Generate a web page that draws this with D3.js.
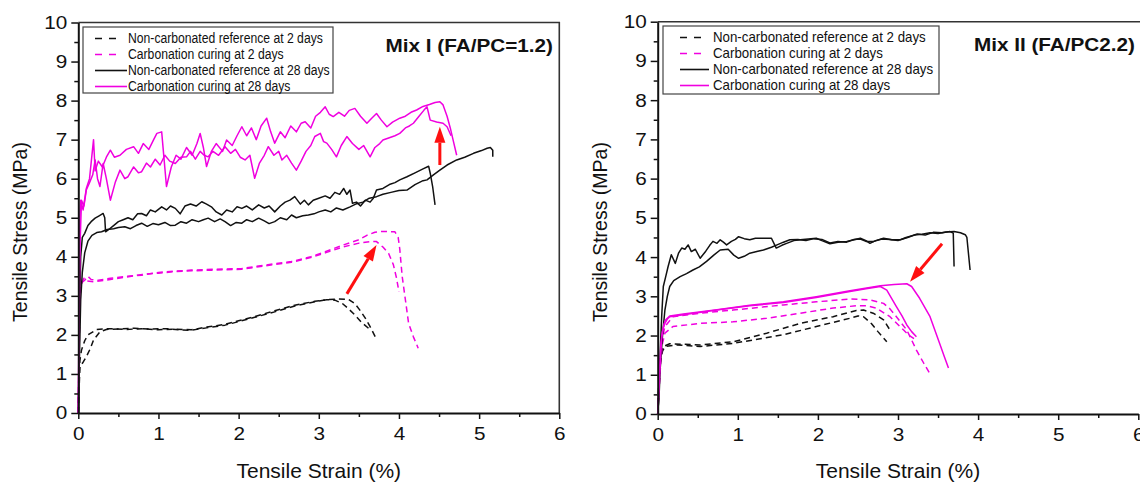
<!DOCTYPE html>
<html><head><meta charset="utf-8">
<script src="https://cdn.jsdelivr.net/npm/d3@7"></script>
<style>body{margin:0;background:#fff;} svg{display:block;}</style>
</head><body>
<svg id="chart" width="1140" height="486"></svg>
<script>
// ---------- tick values & labels ----------
const xTicks = [0, 1, 2, 3, 4, 5, 6];
const xMinorTicks = [0.5, 1.5, 2.5, 3.5, 4.5, 5.5];
const yTicks = [0, 1, 2, 3, 4, 5, 6, 7, 8, 9, 10];
const yMinorTicks = [0.5, 1.5, 2.5, 3.5, 4.5, 5.5, 6.5, 7.5, 8.5, 9.5];
const xTitle = "Tensile Strain (%)";
const yTitle = "Tensile Stress (MPa)";
const panelTitles = ["Mix I (FA/PC=1.2)", "Mix II (FA/PC2.2)"];
const legendLabels = ["Non-carbonated reference at 2 days", "Carbonation curing at 2 days",
  "Non-carbonated reference at 28 days", "Carbonation curing at 28 days"];

// ---------- Mix I data: [strain %, stress MPa] ----------
const mix1_nc2_a = [[0,0],[0.01,0.6],[0.02,1.19],[0.06,1.3],[0.1,1.44],[0.15,1.65],[0.19,1.87],[0.27,2.08],[0.35,2.14],[0.5,2.15],[0.7,2.17],[0.9,2.15],[1.1,2.16],[1.25,2.13],[1.41,2.12],[1.6,2.18],[1.83,2.25],[2.0,2.34],[2.2,2.45],[2.45,2.59],[2.7,2.74],[2.95,2.85],[3.1,2.9],[3.24,2.92],[3.37,2.91],[3.45,2.8],[3.51,2.64],[3.58,2.43],[3.64,2.21],[3.72,1.89]];
const mix1_nc2_b = [[0,0],[0.01,0.9],[0.02,1.35],[0.04,1.61],[0.08,1.85],[0.12,2.0],[0.23,2.14],[0.4,2.16],[0.6,2.14],[0.8,2.16],[1.0,2.13],[1.2,2.15],[1.41,2.13],[1.6,2.2],[1.83,2.27],[2.0,2.36],[2.2,2.47],[2.45,2.62],[2.7,2.76],[2.95,2.86],[3.1,2.9],[3.2,2.89],[3.29,2.81],[3.37,2.67],[3.45,2.51],[3.53,2.33],[3.62,2.17]];
const mix1_c2_a = [[0,0],[0.01,1.5],[0.02,2.8],[0.03,3.2],[0.05,3.35],[0.08,3.4],[0.12,3.5],[0.16,3.42],[0.25,3.4],[0.4,3.45],[0.6,3.5],[0.79,3.53],[1.0,3.6],[1.2,3.63],[1.41,3.66],[1.7,3.68],[2.04,3.7],[2.3,3.78],[2.66,3.88],[2.9,4.0],[3.08,4.13],[3.3,4.3],[3.49,4.43],[3.6,4.55],[3.7,4.63],[3.8,4.65],[3.95,4.64],[3.99,4.5],[4.01,4.2],[4.04,3.5],[4.08,2.9],[4.12,2.3],[4.18,1.95],[4.24,1.66]];
const mix1_c2_b = [[0,0],[0.01,1.8],[0.02,3.0],[0.04,3.3],[0.07,3.45],[0.1,3.38],[0.2,3.36],[0.4,3.42],[0.6,3.48],[0.8,3.55],[1.0,3.58],[1.2,3.62],[1.41,3.64],[1.7,3.66],[2.04,3.68],[2.3,3.76],[2.66,3.86],[2.9,3.98],[3.08,4.1],[3.3,4.25],[3.5,4.35],[3.65,4.39],[3.72,4.39],[3.8,4.25],[3.87,4.09],[3.93,3.8],[3.97,3.45],[4.0,3.1]];
const mix1_nc28_a = [[0,0],[0.01,1.5],[0.02,3.0],[0.03,4.0],[0.05,4.5],[0.08,4.6],[0.12,4.8],[0.16,4.9],[0.21,4.99],[0.26,5.05],[0.31,5.11],[0.33,5.0],[0.34,4.64],[0.38,4.7],[0.44,4.8],[0.5,4.9],[0.56,4.95],[0.62,5.0],[0.68,4.95],[0.74,5.1],[0.79,5.11],[0.85,5.05],[0.9,5.2],[0.96,5.15],[1.04,5.28],[1.1,5.2],[1.15,5.3],[1.21,5.24],[1.27,5.1],[1.33,5.3],[1.4,5.35],[1.47,5.3],[1.54,5.41],[1.6,5.35],[1.66,5.28],[1.72,5.15],[1.79,5.07],[1.85,5.2],[1.92,5.15],[1.98,5.28],[2.04,5.24],[2.1,5.3],[2.17,5.2],[2.25,5.33],[2.32,5.25],[2.38,5.3],[2.45,5.15],[2.52,5.3],[2.58,5.4],[2.64,5.45],[2.7,5.54],[2.77,5.35],[2.82,5.45],[2.87,5.33],[2.93,5.45],[3.0,5.5],[3.08,5.56],[3.14,5.5],[3.2,5.65],[3.26,5.6],[3.31,5.75],[3.35,5.6],[3.39,5.71],[3.42,5.37],[3.47,5.4],[3.52,5.3],[3.58,5.45],[3.64,5.4],[3.68,5.5],[3.72,5.71],[3.8,5.75],[3.88,5.85],[3.95,5.9],[4.01,5.97],[4.1,6.05],[4.2,6.15],[4.3,6.25],[4.37,6.32],[4.39,6.14],[4.42,5.8],[4.45,5.33]];
const mix1_nc28_b = [[0,0],[0.01,1.0],[0.02,2.0],[0.03,2.9],[0.05,3.6],[0.08,4.1],[0.12,4.4],[0.17,4.55],[0.23,4.62],[0.29,4.64],[0.36,4.7],[0.44,4.72],[0.5,4.75],[0.58,4.77],[0.65,4.72],[0.72,4.8],[0.79,4.86],[0.86,4.78],[0.93,4.85],[1.0,4.82],[1.08,4.88],[1.15,4.8],[1.21,4.81],[1.28,4.9],[1.35,4.86],[1.42,4.95],[1.5,4.9],[1.56,4.95],[1.62,4.99],[1.7,4.9],[1.77,4.97],[1.83,4.9],[1.9,4.8],[1.97,4.88],[2.04,4.86],[2.1,4.95],[2.17,4.9],[2.25,4.99],[2.32,4.92],[2.38,4.85],[2.45,4.9],[2.52,5.0],[2.6,4.95],[2.66,5.07],[2.72,5.0],[2.8,5.05],[2.87,5.07],[2.94,5.1],[3.0,5.15],[3.08,5.2],[3.15,5.15],[3.22,5.25],[3.3,5.2],[3.39,5.28],[3.46,5.35],[3.55,5.4],[3.63,5.5],[3.72,5.54],[3.8,5.6],[3.9,5.65],[4.0,5.7],[4.1,5.71],[4.2,5.85],[4.3,5.95],[4.35,5.97],[4.43,6.1],[4.51,6.22],[4.6,6.35],[4.72,6.48],[4.82,6.55],[4.93,6.65],[5.03,6.72],[5.1,6.78],[5.14,6.8],[5.17,6.73],[5.17,6.56]];
const mix1_c28_a = [[0,0],[0.01,3.0],[0.02,5.0],[0.03,5.45],[0.06,5.2],[0.1,5.75],[0.14,6.0],[0.19,7.0],[0.21,6.2],[0.25,6.45],[0.3,6.3],[0.35,6.55],[0.4,6.73],[0.45,6.55],[0.52,6.6],[0.6,6.75],[0.69,6.82],[0.75,6.65],[0.81,6.9],[0.88,6.75],[0.94,7.0],[0.98,7.16],[1.04,7.2],[1.1,5.8],[1.16,6.3],[1.22,6.6],[1.28,6.5],[1.35,6.8],[1.42,6.6],[1.48,6.9],[1.52,7.16],[1.56,6.8],[1.6,6.31],[1.66,6.7],[1.72,6.9],[1.8,6.7],[1.85,6.99],[1.92,6.85],[1.98,7.1],[2.04,7.33],[2.1,7.1],[2.16,7.3],[2.22,7.0],[2.28,7.35],[2.35,7.55],[2.4,7.2],[2.45,6.91],[2.52,7.2],[2.58,7.05],[2.65,7.35],[2.72,7.2],[2.78,7.42],[2.83,7.46],[2.9,7.3],[2.96,7.6],[3.02,7.7],[3.08,7.84],[3.13,7.65],[3.18,7.59],[3.25,7.7],[3.32,7.6],[3.38,7.75],[3.45,7.8],[3.52,7.6],[3.6,7.42],[3.66,7.55],[3.72,7.67],[3.78,7.5],[3.85,7.33],[3.92,7.45],[4.01,7.55],[4.08,7.6],[4.15,7.7],[4.22,7.76],[4.3,7.85],[4.38,7.9],[4.45,7.95],[4.51,7.97],[4.55,7.89],[4.6,7.6],[4.64,7.3],[4.68,6.95],[4.72,6.6]];
const mix1_c28_b = [[0,0],[0.01,2.2],[0.02,4.2],[0.04,5.45],[0.07,5.3],[0.1,5.71],[0.14,5.9],[0.18,6.1],[0.21,6.48],[0.24,6.0],[0.27,5.8],[0.31,6.39],[0.35,6.0],[0.4,5.45],[0.46,5.9],[0.52,6.22],[0.58,6.0],[0.62,6.05],[0.69,6.3],[0.75,6.15],[0.79,6.18],[0.85,6.4],[0.9,6.3],[0.96,6.5],[1.02,6.35],[1.08,6.6],[1.14,6.45],[1.21,6.39],[1.28,6.55],[1.35,6.56],[1.4,6.7],[1.46,6.5],[1.52,6.7],[1.57,6.6],[1.62,6.56],[1.68,6.7],[1.75,6.6],[1.83,6.82],[1.9,6.65],[1.96,6.75],[2.02,6.55],[2.08,6.48],[2.14,6.6],[2.2,6.01],[2.26,6.4],[2.32,6.6],[2.37,6.82],[2.44,6.6],[2.5,6.7],[2.54,6.48],[2.6,6.6],[2.66,6.4],[2.72,6.22],[2.78,6.45],[2.84,6.7],[2.9,6.85],[2.95,7.08],[3.02,7.16],[3.06,6.95],[3.1,6.91],[3.16,6.75],[3.22,6.56],[3.28,6.85],[3.35,7.08],[3.42,6.9],[3.5,6.75],[3.56,6.85],[3.64,6.56],[3.7,6.8],[3.76,6.9],[3.8,6.99],[3.88,7.05],[3.95,7.1],[4.01,7.16],[4.08,7.3],[4.13,7.35],[4.18,7.42],[4.25,7.6],[4.31,7.75],[4.35,7.84],[4.39,7.5],[4.47,7.45],[4.55,7.42],[4.6,7.33],[4.65,7.1]];

// ---------- Mix II data ----------
const mix2_nc2_a = [[0,0],[0.01,0.6],[0.02,1.1],[0.03,1.46],[0.07,1.72],[0.15,1.79],[0.53,1.76],[0.94,1.84],[1.36,2.06],[1.78,2.31],[2.19,2.48],[2.48,2.64],[2.57,2.65],[2.69,2.57],[2.82,2.4],[2.9,2.14]];
const mix2_nc2_b = [[0,0],[0.01,0.5],[0.02,0.9],[0.03,1.29],[0.06,1.6],[0.09,1.72],[0.24,1.76],[0.53,1.72],[0.94,1.8],[1.57,2.02],[1.98,2.23],[2.4,2.44],[2.5,2.5],[2.57,2.48],[2.67,2.3],[2.75,2.1],[2.86,1.84]];
const mix2_c2_a = [[0,0],[0.02,0.8],[0.04,1.6],[0.06,1.95],[0.09,2.23],[0.19,2.48],[0.53,2.57],[0.94,2.65],[1.57,2.78],[1.98,2.86],[2.4,2.93],[2.65,2.91],[2.82,2.82],[2.9,2.68],[2.98,2.48],[3.11,2.14],[3.23,1.63],[3.32,1.3],[3.4,1.02]];
const mix2_c2_b = [[0,0],[0.02,0.7],[0.04,1.4],[0.06,1.8],[0.09,2.06],[0.19,2.23],[0.53,2.31],[0.94,2.35],[1.36,2.44],[1.78,2.57],[2.19,2.7],[2.48,2.76],[2.6,2.76],[2.73,2.7],[2.9,2.48],[3.07,2.14],[3.14,2.0],[3.2,1.92]];
const mix2_nc28_a = [[0,0],[0.01,0.27],[0.03,1.5],[0.05,2.5],[0.07,3.25],[0.1,3.5],[0.13,3.76],[0.17,4.06],[0.22,3.84],[0.26,4.1],[0.3,4.23],[0.34,4.2],[0.38,4.31],[0.42,4.14],[0.47,4.2],[0.53,3.97],[0.6,4.15],[0.65,4.3],[0.69,4.4],[0.74,4.35],[0.78,4.44],[0.82,4.38],[0.86,4.31],[0.92,4.4],[0.97,4.45],[1.01,4.52],[1.08,4.47],[1.15,4.44],[1.22,4.48],[1.32,4.48],[1.42,4.48],[1.48,4.23],[1.55,4.3],[1.61,4.35],[1.7,4.42],[1.78,4.44],[1.88,4.46],[1.98,4.48],[2.05,4.42],[2.15,4.34],[2.25,4.38],[2.36,4.4],[2.45,4.44],[2.53,4.48],[2.6,4.42],[2.65,4.35],[2.72,4.42],[2.82,4.48],[2.92,4.44],[3.03,4.44],[3.12,4.5],[3.24,4.59],[3.34,4.56],[3.44,4.63],[3.55,4.62],[3.65,4.65],[3.69,4.61],[3.7,3.76]];
const mix2_nc28_b = [[0,0],[0.02,0.6],[0.03,1.12],[0.06,2.0],[0.09,2.65],[0.12,3.0],[0.15,3.25],[0.2,3.4],[0.28,3.5],[0.36,3.58],[0.44,3.67],[0.52,3.75],[0.61,3.89],[0.7,4.05],[0.78,4.18],[0.88,4.2],[0.95,4.05],[1.01,3.97],[1.08,4.02],[1.15,4.1],[1.25,4.15],[1.32,4.18],[1.42,4.25],[1.49,4.31],[1.57,4.38],[1.65,4.44],[1.75,4.45],[1.85,4.42],[1.95,4.47],[2.05,4.45],[2.15,4.36],[2.25,4.4],[2.36,4.38],[2.45,4.45],[2.53,4.46],[2.6,4.4],[2.7,4.4],[2.8,4.46],[2.9,4.45],[3.0,4.42],[3.1,4.5],[3.2,4.56],[3.3,4.58],[3.4,4.62],[3.5,4.6],[3.6,4.64],[3.7,4.65],[3.78,4.62],[3.84,4.57],[3.86,4.5],[3.9,3.67]];
const mix2_c28_a = [[0,0],[0.02,0.8],[0.04,1.6],[0.05,1.97],[0.07,2.2],[0.09,2.31],[0.12,2.42],[0.15,2.48],[0.32,2.53],[0.74,2.65],[1.15,2.76],[1.57,2.84],[1.98,2.97],[2.4,3.12],[2.6,3.19],[2.78,3.25],[2.86,3.16],[2.92,2.95],[2.98,2.74],[3.05,2.5],[3.11,2.27],[3.17,2.1],[3.23,1.97]];
const mix2_c28_b = [[0,0],[0.02,1.0],[0.04,1.8],[0.06,2.1],[0.08,2.3],[0.1,2.4],[0.15,2.5],[0.32,2.55],[0.74,2.66],[1.15,2.77],[1.57,2.86],[1.98,2.99],[2.4,3.14],[2.78,3.27],[2.95,3.3],[3.11,3.32],[3.17,3.25],[3.27,2.95],[3.4,2.48],[3.52,1.8],[3.58,1.45],[3.63,1.17]];

// ---------- annotation arrows: [tailStrain, tailStress, tipStrain, tipStress] ----------
const mix1_arrows = [[4.51, 6.35, 4.51, 7.33], [3.35, 3.05, 3.72, 4.3]];
const mix2_arrows = [[3.55, 4.34, 3.15, 3.37]];

// ---------- styles (kept apart from data) ----------
const MAG = "#f000e0";
const seriesStyle = [
  { color: "#111", dash: "6,4" },
  { color: MAG, dash: "6,4" },
  { color: "#111", dash: null },
  { color: MAG, dash: null }
];
const FONT = "'Liberation Sans', Arial, sans-serif";
const TICK_FX = 1.12;

const panels = [
  { x0: 78.3, x1: 559.3, y0: 413, y1: 22.5, title: panelTitles[0], titleX: 553, titleY: 51.5,
    legend: { x: 83, y: 27, w: 250, h: 66, textX: 128, sx0: 95, dashEnd: 117, solidEnd: 127, fx: 0.87 },
    series: [[mix1_nc2_a, mix1_nc2_b], [mix1_c2_a, mix1_c2_b], [mix1_nc28_a, mix1_nc28_b], [mix1_c28_a, mix1_c28_b]],
    arrows: mix1_arrows, yTitleX: 27, rightEdge: true },
  { x0: 657.7, x1: 1138.3, y0: 414, y1: 21.7, title: panelTitles[1], titleX: 1135, titleY: 50.5,
    legend: { x: 663, y: 26, w: 276, h: 68, textX: 713, sx0: 680, dashEnd: 701, solidEnd: 709, fx: 0.95 },
    series: [[mix2_nc2_a, mix2_nc2_b], [mix2_c2_a, mix2_c2_b], [mix2_nc28_a, mix2_nc28_b], [mix2_c28_a, mix2_c28_b]],
    arrows: mix2_arrows, yTitleX: 607, rightEdge: false }
];

const svg = d3.select("#chart");

function drawPanel(p) {
  const x = d3.scaleLinear().domain([0, 6]).range([p.x0, p.x1]);
  const y = d3.scaleLinear().domain([0, 10]).range([p.y0, p.y1]);
  const g = svg.append("g");

  // frame (top and right)
  const rx = p.rightEdge ? p.x1 : p.x1 + 4;
  g.append("path").attr("d", `M${p.x0},${p.y1}H${rx}V${p.y0}`)
    .attr("fill", "none").attr("stroke", "#333").attr("stroke-width", 1.6);

  // curves
  const line = d3.line().x(d => x(d[0])).y(d => y(d[1]));
  p.series.forEach((grp, i) => {
    grp.forEach(arr => {
      g.append("path").datum(arr).attr("d", line)
        .attr("fill", "none").attr("stroke", seriesStyle[i].color)
        .attr("stroke-width", 1.5).attr("stroke-linejoin", "round")
        .attr("stroke-dasharray", seriesStyle[i].dash);
    });
  });

  // arrows
  p.arrows.forEach(a => {
    const tx = x(a[0]), ty = y(a[1]), hx = x(a[2]), hy = y(a[3]);
    const ang = Math.atan2(hy - ty, hx - tx);
    const L = 16, W = 5.5;
    const bx = hx - L * Math.cos(ang), by = hy - L * Math.sin(ang);
    g.append("line").attr("x1", tx).attr("y1", ty).attr("x2", bx).attr("y2", by)
      .attr("stroke", "#ff1010").attr("stroke-width", 3);
    const px = -Math.sin(ang) * W, py = Math.cos(ang) * W;
    g.append("path").attr("d", `M${hx},${hy}L${bx + px},${by + py}L${bx - px},${by - py}Z`)
      .attr("fill", "#ff1010");
  });

  // axes
  g.append("g").attr("class", "xax").attr("transform", `translate(0,${p.y0})`)
    .call(d3.axisBottom(x).tickValues(xTicks).tickSize(6).tickSizeOuter(0).tickPadding(8).tickFormat(d3.format("d")));
  g.append("g").attr("transform", `translate(0,${p.y0})`)
    .call(d3.axisBottom(x).tickValues(xMinorTicks).tickSize(4).tickSizeOuter(0).tickFormat(""))
    .call(s => s.select(".domain").remove());
  g.append("g").attr("class", "yax").attr("transform", `translate(${p.x0},0)`)
    .call(d3.axisLeft(y).tickValues(yTicks).tickSize(7).tickSizeOuter(0).tickPadding(2.8).tickFormat(d3.format("d")));
  g.append("g").attr("transform", `translate(${p.x0},0)`)
    .call(d3.axisLeft(y).tickValues(yMinorTicks).tickSize(4).tickSizeOuter(0).tickFormat(""))
    .call(s => s.select(".domain").remove());
  g.selectAll(".domain").attr("stroke", "#111").attr("stroke-width", 2);
  g.selectAll(".tick line").attr("stroke", "#111").attr("stroke-width", 1.5);
  g.selectAll(".tick text").attr("font-family", FONT).attr("font-size", 18.5).attr("fill", "#111")
    .attr("transform", `scale(${TICK_FX},1)`);

  // axis titles
  g.append("text").attr("x", (p.x0 + p.x1) / 2).attr("y", 478).attr("text-anchor", "middle")
    .attr("font-family", FONT).attr("font-size", 21).attr("fill", "#111").text(xTitle);
  g.append("text").attr("transform", `translate(${p.yTitleX},232) rotate(-90)`).attr("text-anchor", "middle")
    .attr("font-family", FONT).attr("font-size", 19.5).attr("fill", "#111").text(yTitle);

  // panel title
  g.append("text").attr("transform", `translate(${p.titleX},${p.titleY}) scale(1.12,1)`).attr("text-anchor", "end")
    .attr("font-family", FONT).attr("font-weight", "bold").attr("font-size", 18.5).attr("fill", "#111").text(p.title);

  // legend
  const L = p.legend;
  g.append("rect").attr("x", L.x).attr("y", L.y).attr("width", L.w).attr("height", L.h)
    .attr("fill", "#fff").attr("stroke", "#444").attr("stroke-width", 1.2);
  legendLabels.forEach((lab, i) => {
    const base = L.y + 16 + i * 16;
    g.append("line").attr("x1", L.sx0).attr("x2", seriesStyle[i].dash ? L.dashEnd : L.solidEnd)
      .attr("y1", base - 4.5).attr("y2", base - 4.5)
      .attr("stroke", seriesStyle[i].color).attr("stroke-width", 1.6)
      .attr("stroke-dasharray", seriesStyle[i].dash ? "7,7" : null);
    g.append("text").attr("transform", `translate(${L.textX},${base}) scale(${L.fx},1)`)
      .attr("font-family", FONT).attr("font-size", 14).attr("fill", "#111").text(lab);
  });
}

panels.forEach(drawPanel);
</script>
</body></html>
